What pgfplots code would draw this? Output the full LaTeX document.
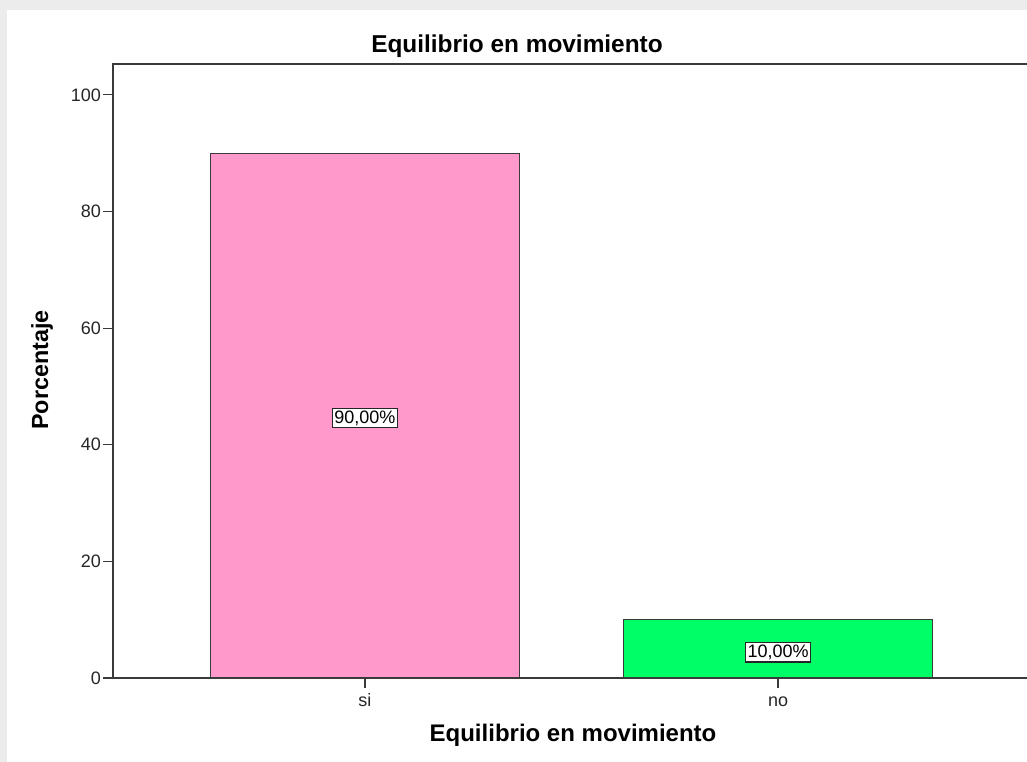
\documentclass[border=0pt]{standalone}
\usepackage{pgfplots}
\pgfplotsset{compat=1.18}
\usepackage{fontspec}
\setmainfont{Liberation Sans}
\definecolor{bgGray}{HTML}{ECECEC}
\definecolor{pinkBar}{HTML}{FF99CC}
\definecolor{greenBar}{HTML}{00FF66}
\definecolor{axGray}{HTML}{3A3A3A}
\begin{document}
\begin{tikzpicture}
\useasboundingbox (0,0) rectangle (770.25pt,571.5pt);
\clip (0,0) rectangle (770.25pt,571.5pt);
\fill[bgGray] (0,0) rectangle (770.25pt,571.5pt);
\fill[white] (5.25pt,0) rectangle (770.25pt,564pt);
\begin{axis}[
  at={(84.75pt,63pt)}, anchor=south west,
  width=687.75pt, height=460.5pt, scale only axis,
  xmin=-0.61, xmax=1.61, ymin=0, ymax=105.3,
  xtick={0,1}, xticklabels={si,no},
  ytick={0,20,40,60,80,100},
  tick pos=left, tick align=outside,
  major tick length=7.5pt,
  axis line style={axGray, line width=1pt},
  every tick/.style={axGray, line width=0.9pt},
  tick label style={font=\fontsize{13.5}{16}\selectfont, text=black!85},
  xticklabel style={text height=10pt, text depth=3pt, yshift=-0.5pt},
  yticklabel style={xshift=2pt},
  /pgf/number format/assume math mode=true,
  clip=false,
]
\addplot[ybar, bar width=0.748, fill=pinkBar, draw=axGray, line width=1pt]
  coordinates {(0,90)};
\addplot[ybar, bar width=0.748, fill=greenBar, draw=axGray, line width=1pt]
  coordinates {(1,10)};
\addplot[only marks, mark=none, point meta=explicit symbolic,
  nodes near coords,
  every node near coord/.append style={anchor=center, draw=black!85, fill=white,
    line width=1pt, inner sep=1.6pt, font=\fontsize{13.5}{15}\selectfont}]
  coordinates {(0,44.6)[90,00\%] (1,4.4)[10,00\%]};
\end{axis}
\node[font=\bfseries\fontsize{18.3}{20}\selectfont] at (387.75pt,536.5pt) {Equilibrio en movimiento};
\node[font=\bfseries\fontsize{18}{20}\selectfont] at (429.75pt,20.25pt) {Equilibrio en movimiento};
\node[font=\bfseries\fontsize{17.5}{20}\selectfont, rotate=90] at (31.5pt,294pt) {Porcentaje};
\end{tikzpicture}
\end{document}
